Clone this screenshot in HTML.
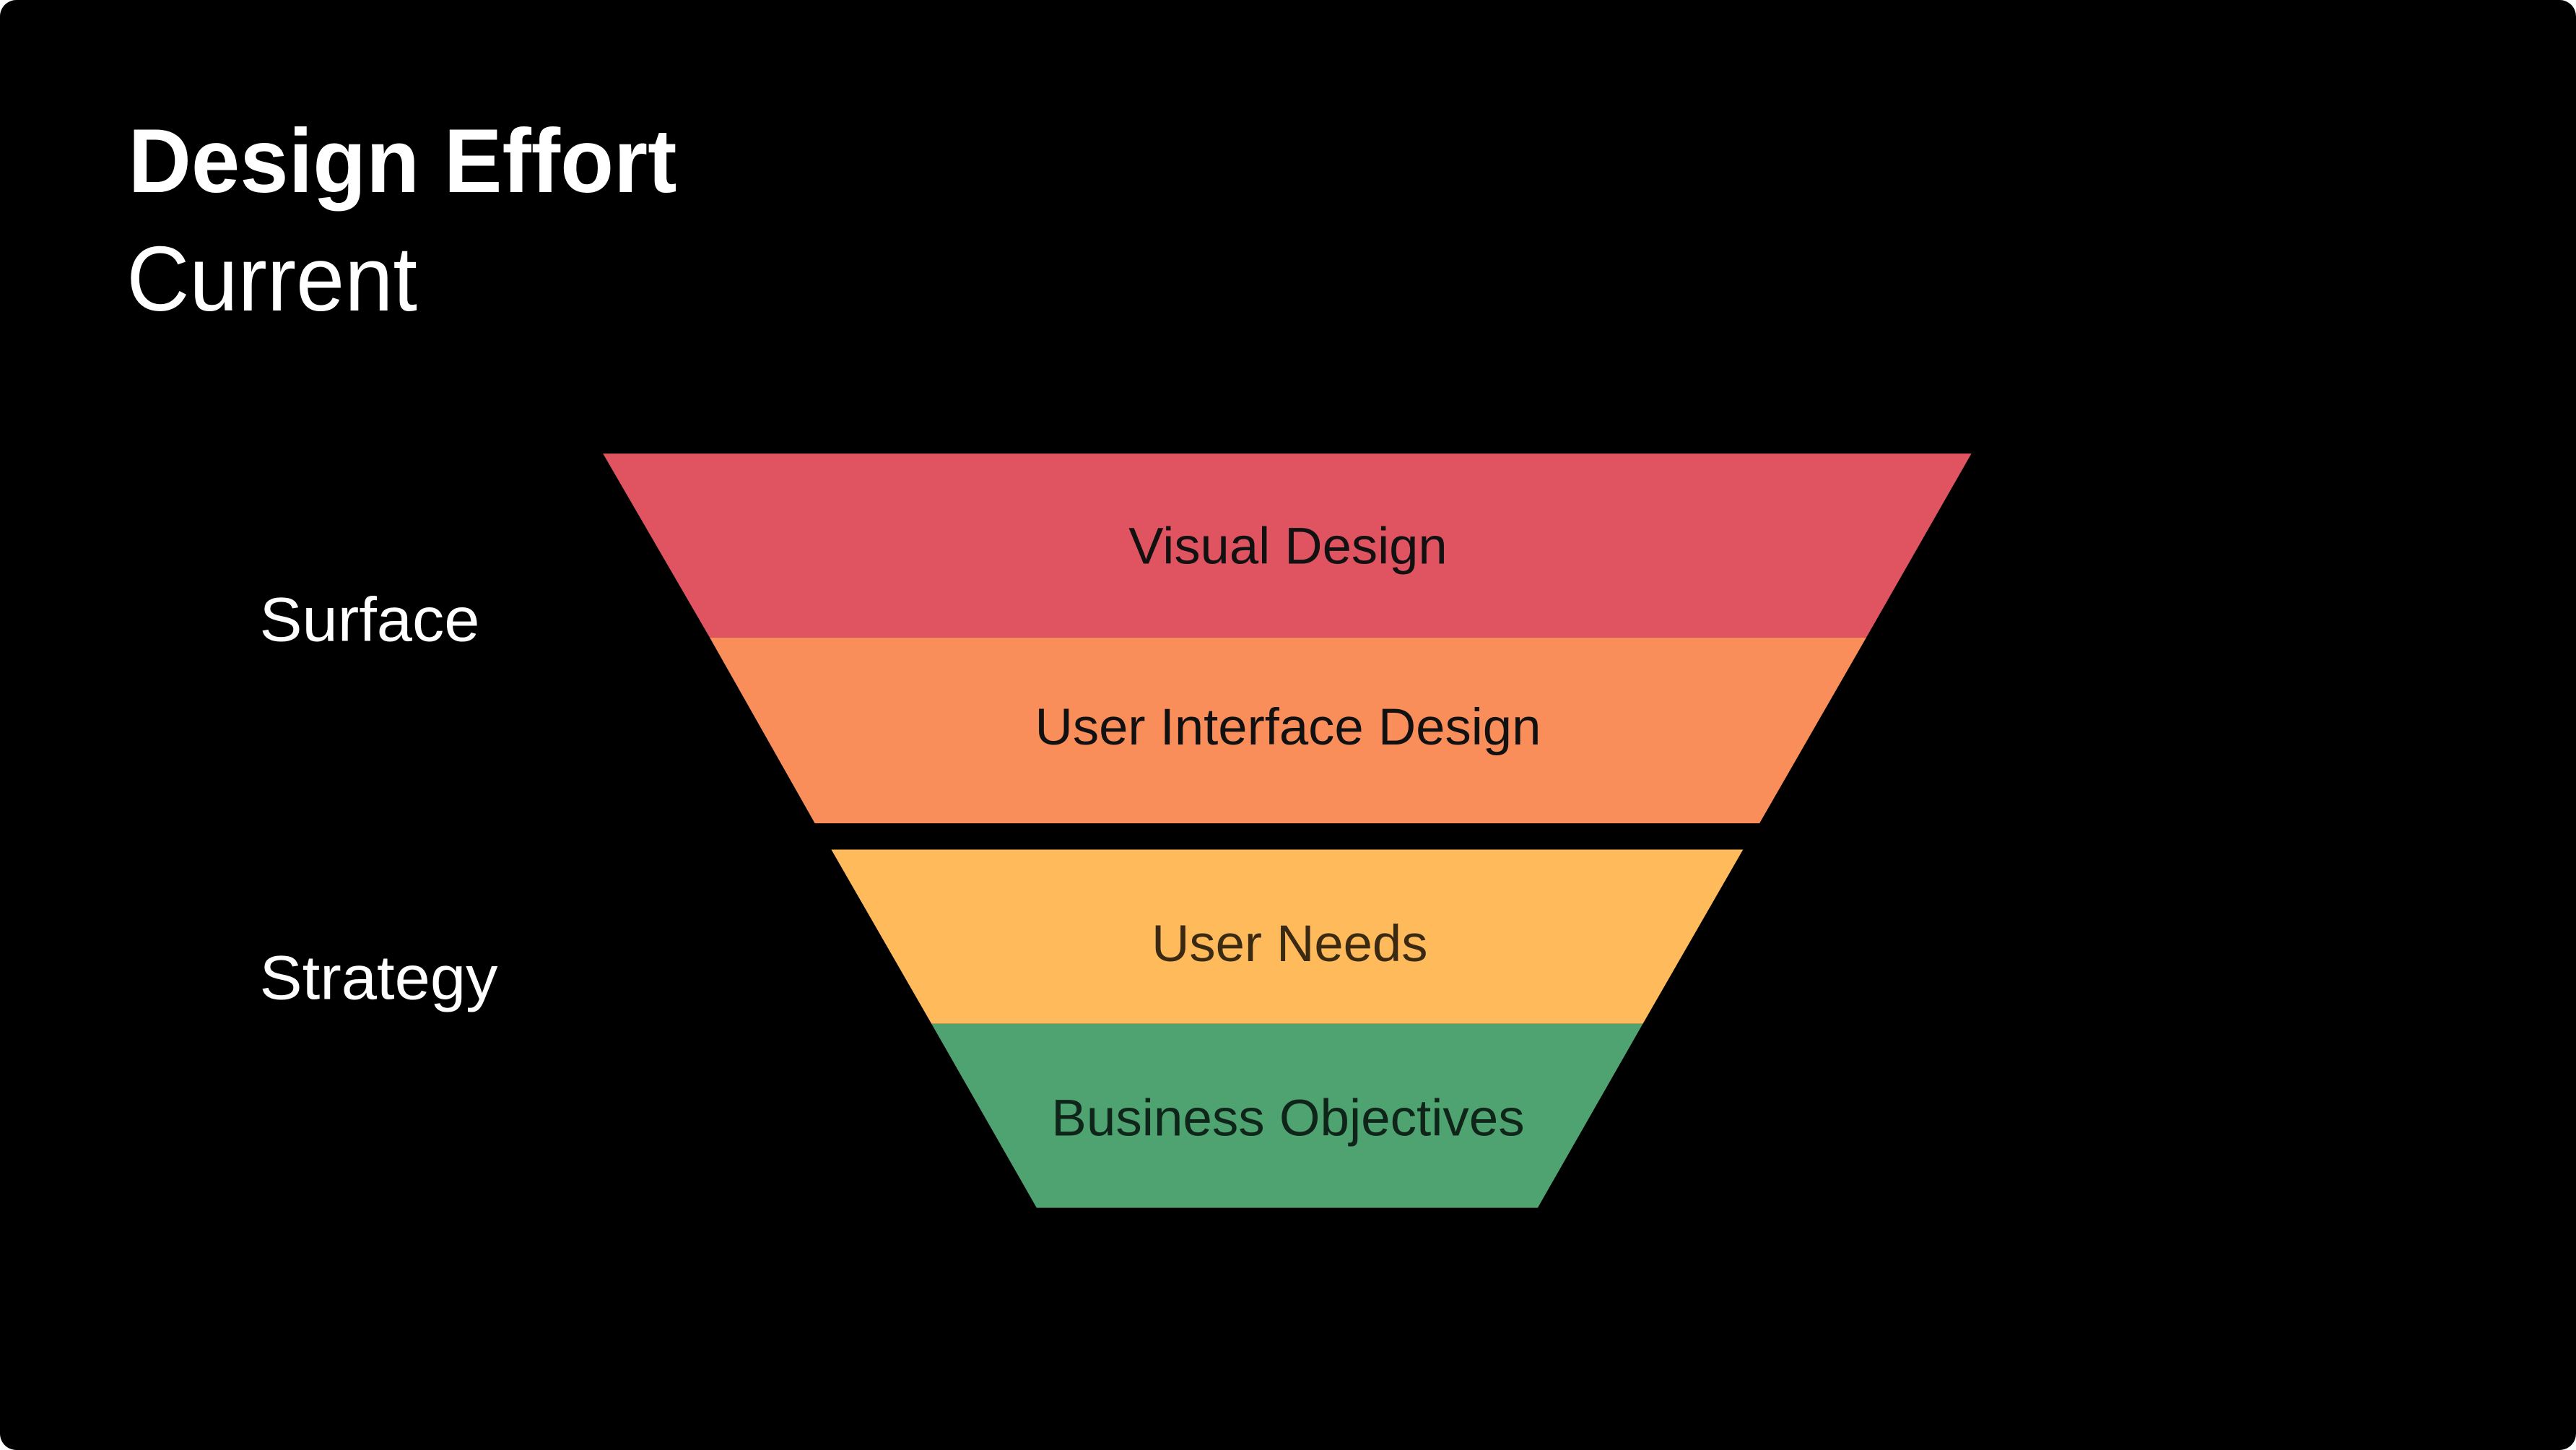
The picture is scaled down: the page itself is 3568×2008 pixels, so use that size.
<!DOCTYPE html>
<html><head><meta charset="utf-8"><style>
html,body{margin:0;padding:0;background:#fff;}
svg{display:block;}
</style></head><body>
<svg width="3568" height="2008" viewBox="0 0 1568 882.4" preserveAspectRatio="none" xmlns="http://www.w3.org/2000/svg" font-family="'Liberation Sans', sans-serif">
<rect x="0" y="0" width="1568" height="882.4" rx="10" fill="#000"/>
<text x="78" y="117" font-size="55" font-weight="bold" fill="#fff" textLength="334" lengthAdjust="spacingAndGlyphs">Design Effort</text>
<text x="77" y="189" font-size="56" fill="#fff" textLength="177" lengthAdjust="spacingAndGlyphs">Current</text>
<text x="158" y="390" font-size="38" fill="#fff" textLength="134" lengthAdjust="spacingAndGlyphs">Surface</text>
<text x="158" y="608" font-size="38" fill="#fff" textLength="145" lengthAdjust="spacingAndGlyphs">Strategy</text>
<polygon points="367,276 1200,276 1136,388 432,388" fill="#E05461"/>
<polygon points="432,388 1136,388 1071,501 496,501" fill="#F98E5B"/>
<polygon points="506,517 1061,517 1000,623 567,623" fill="#FFBA5C"/>
<polygon points="567,623 1000,623 936,735 631,735" fill="#4EA371"/>
<g font-size="31.5" text-anchor="middle" lengthAdjust="spacingAndGlyphs">
<text x="784" y="343" fill="#111" textLength="194" lengthAdjust="spacingAndGlyphs">Visual Design</text>
<text x="784" y="453" fill="#111" textLength="308" lengthAdjust="spacingAndGlyphs">User Interface Design</text>
<text x="785" y="585" fill="#3b2a12" textLength="168" lengthAdjust="spacingAndGlyphs">User Needs</text>
<text x="784" y="691" fill="#10251a" textLength="288" lengthAdjust="spacingAndGlyphs">Business Objectives</text>
</g>
</svg>
</body></html>
